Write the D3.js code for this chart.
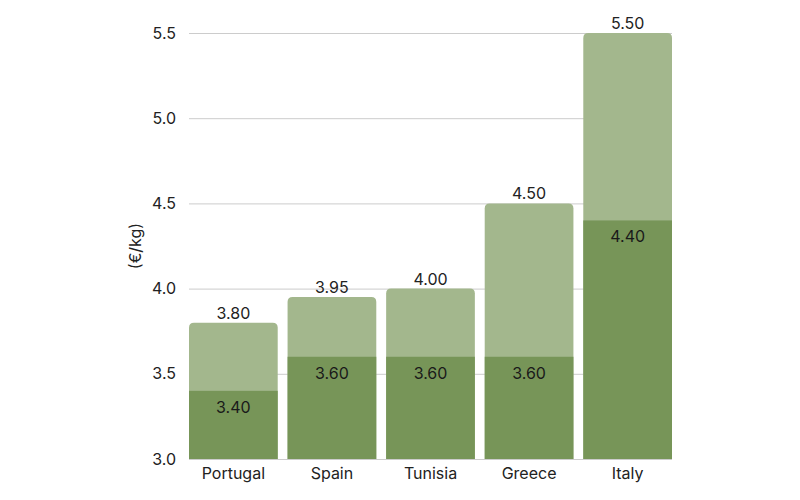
<!DOCTYPE html>
<html>
<head>
<meta charset="utf-8">
<script src="https://cdn.jsdelivr.net/npm/d3@7"></script>
<style>
  body { margin: 0; background: #fff; }
  text { font-family: Inter, "Noto Sans", sans-serif; }
</style>
</head>
<body>
<svg id="chart" width="800" height="500"></svg>
<script>
// chart data
const countries = ["Portugal", "Spain", "Tunisia", "Greece", "Italy"]
const lowValues = [3.40, 3.60, 3.60, 3.60, 4.40]
const highValues = [3.80, 3.95, 4.00, 4.50, 5.50]
const yTicks = [3.0, 3.5, 4.0, 4.5, 5.0, 5.5]

const margin = { top: 33, right: 128, bottom: 41, left: 189 }
const width = 800, height = 500
const fontSize = "16px"

const svg = d3.select("#chart")

const x = d3.scaleBand()
    .domain(countries)
    .range([margin.left, width - margin.right])
    .paddingInner(0.1)
    .paddingOuter(0)

const y = d3.scaleLinear()
    .domain([3.0, 5.5])
    .range([height - margin.bottom, margin.top])

// gridlines + y labels
const yAxis = svg.append("g")
    .attr("transform", translate(margin.left, 0))
    .call(d3.axisLeft(y).tickValues(yTicks).tickFormat(d3.format(".1f")).tickSize(-(width - margin.left - margin.right)).tickPadding(13))
yAxis.select(".domain").remove()
yAxis.selectAll(".tick line").attr("stroke", "#cccccc")
yAxis.selectAll(".tick text")
    .style("font-size", fontSize)
    .attr("fill", "#222")

// x labels
const xAxis = svg.append("g")
    .attr("transform", translate(0, height - margin.bottom))
    .call(d3.axisBottom(x).tickSize(0).tickPadding(9))
xAxis.select(".domain").remove()
xAxis.selectAll(".tick text")
    .style("font-size", fontSize)
    .attr("fill", "#222")

// axis title
svg.append("text")
    .attr("transform", translate(141, 246) + " rotate(-90)")
    .attr("text-anchor", "middle")
    .style("font-size", fontSize)
    .attr("fill", "#222")
    .text("(€/kg)")

// rounded-top bar path
function topRounded(x0, y0, w, h, r) {
    return "M" + x0 + "," + (y0 + h) +
        "V" + (y0 + r) +
        "Q" + x0 + "," + y0 + " " + (x0 + r) + "," + y0 +
        "H" + (x0 + w - r) +
        "Q" + (x0 + w) + "," + y0 + " " + (x0 + w) + "," + (y0 + r) +
        "V" + (y0 + h) + "Z"
}

const bars = svg.append("g")
const data = countries.map((c, i) => ({ country: c, low: lowValues[i], high: highValues[i] }))

bars.selectAll(".high")
    .data(data)
    .enter()
    .append("path")
    .attr("class", "high")
    .attr("d", d => topRounded(x(d.country), y(d.high), x.bandwidth(), y(3.0) - y(d.high), 5))
    .attr("fill", "#a3b78d")

bars.selectAll(".low")
    .data(data)
    .enter()
    .append("rect")
    .attr("class", "low")
    .attr("x", d => x(d.country))
    .attr("y", d => y(d.low))
    .attr("width", x.bandwidth())
    .attr("height", d => y(3.0) - y(d.low))
    .attr("fill", "#779558")

// value labels
bars.selectAll(".high-label")
    .data(data)
    .enter()
    .append("text")
    .attr("x", d => x(d.country) + x.bandwidth() / 2)
    .attr("y", d => y(d.high) - 4)
    .attr("text-anchor", "middle")
    .style("font-size", fontSize)
    .attr("fill", "#222")
    .text(d => d.high.toFixed(2))

bars.selectAll(".low-label")
    .data(data)
    .enter()
    .append("text")
    .attr("x", d => x(d.country) + x.bandwidth() / 2)
    .attr("y", d => y(d.low) + 22)
    .attr("text-anchor", "middle")
    .style("font-size", fontSize)
    .attr("fill", "#1a1a1a")
    .text(d => d.low.toFixed(2))

function translate(x, y) {
    return "translate(" + x + "," + y + ")";
}
</script>
</body>
</html>
